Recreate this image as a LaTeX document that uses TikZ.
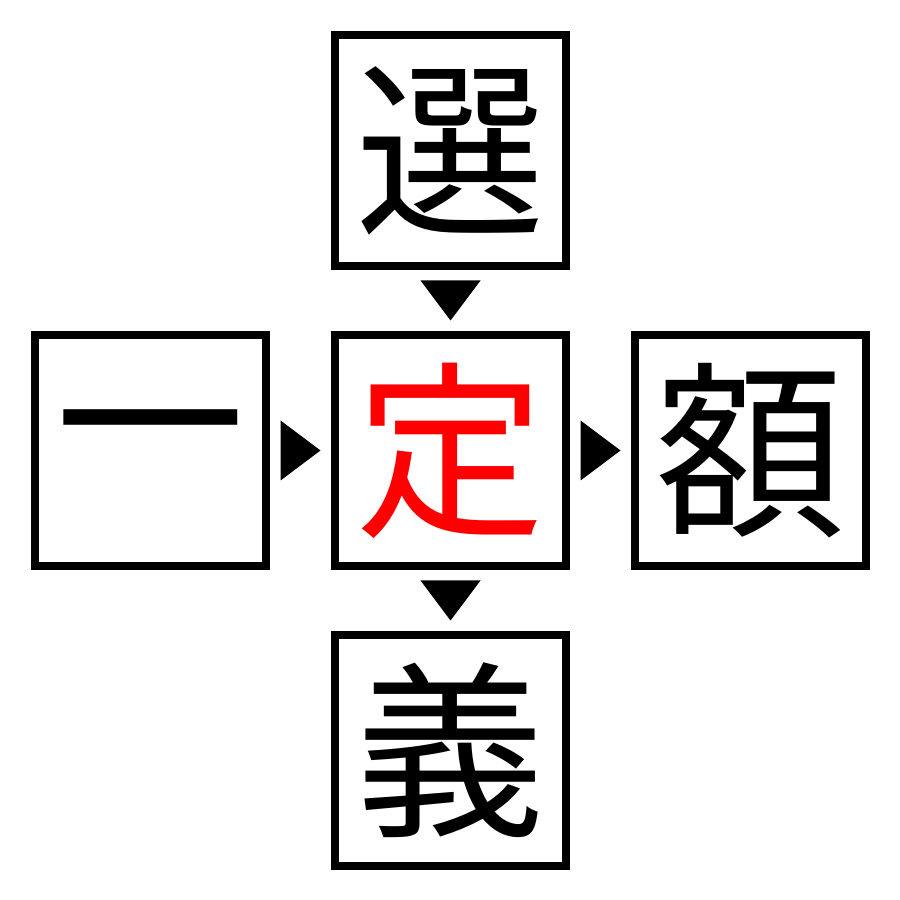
\documentclass[tikz,border=0pt]{standalone}
\usepackage{fontspec}
\newfontfamily\cjk{Noto Sans CJK JP}
\usepackage{tikz}
\usetikzlibrary{positioning}
\usetikzlibrary{calc}

\begin{document}
\begin{tikzpicture}[on grid, node distance=30mm,
    kanji/.style={draw, line width=0.8mm, minimum size=23.1mm, inner sep=0pt,
                  font=\cjk\fontsize{54}{54}\selectfont},
    center kanji/.style={kanji, text=red}]

        \useasboundingbox (0,0) rectangle (9,9);

        \node[center kanji]  (c_0) at (4.505,4.495) {定};
        \node[kanji]         (c_1) [above=of c_0]   {選};
        \node[kanji]         (c_2) [left=of c_0]    {一};
        \node[kanji]         (c_3) [right=of c_0]   {額};
        \node[kanji]         (c_4) [below=of c_0]   {義};

        % down arrows
        \path (c_1.south) -- (c_0.north) coordinate[midway] (m_1);
        \path (c_0.south) -- (c_4.north) coordinate[midway] (m_4);
        \foreach \m in {m_1, m_4}
          \fill ($(\m)+(-0.3,0.2)$) -- ($(\m)+(0.3,0.2)$) -- ($(\m)+(0,-0.2)$) -- cycle;

        % right arrows
        \path (c_2.east) -- (c_0.west) coordinate[midway] (m_2);
        \path (c_0.east) -- (c_3.west) coordinate[midway] (m_3);
        \foreach \m in {m_2, m_3}
          \fill ($(\m)+(-0.2,0.3)$) -- ($(\m)+(-0.2,-0.3)$) -- ($(\m)+(0.2,0)$) -- cycle;

\end{tikzpicture}
\end{document}
